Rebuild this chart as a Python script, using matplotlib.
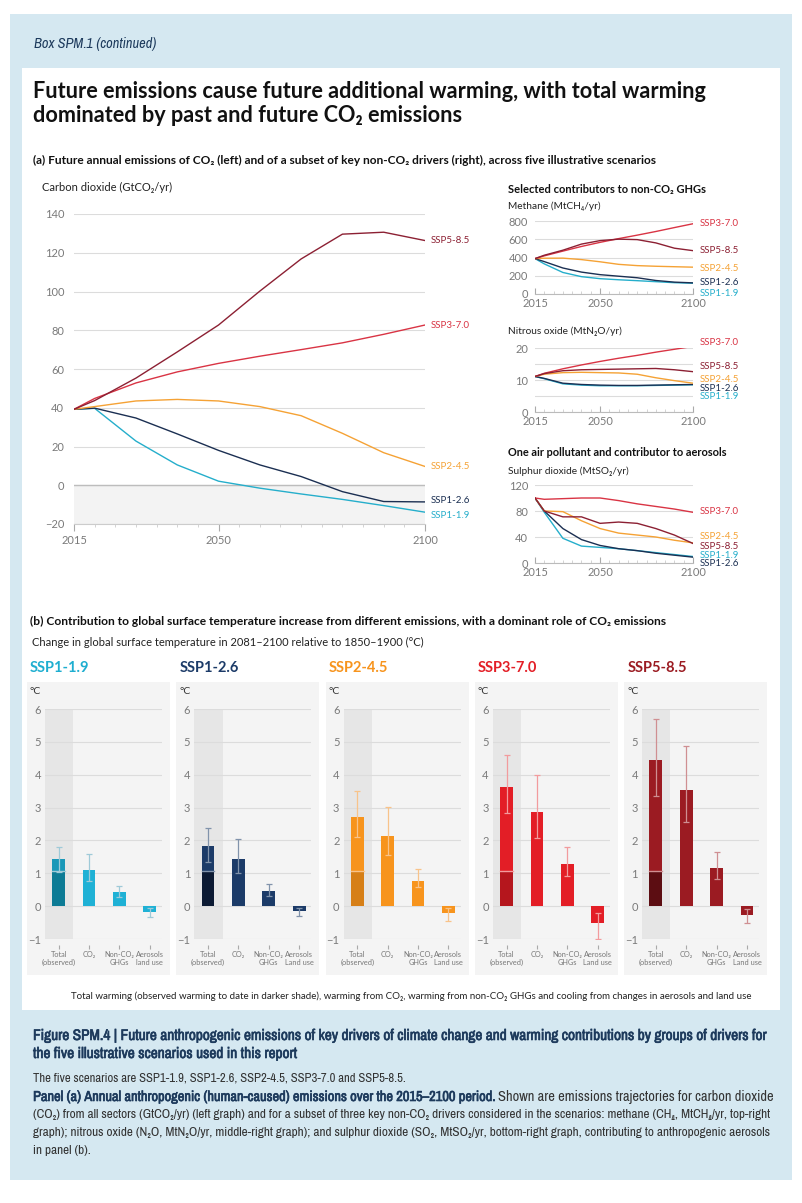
import matplotlib
matplotlib.use('Agg')
import matplotlib.pyplot as plt
import matplotlib.patheffects as pe
from matplotlib.patches import Rectangle
from matplotlib import font_manager

W, H = 802, 1203

# ---- data ----
years = [2015, 2020, 2030, 2040, 2050, 2060, 2070, 2080, 2090, 2100]
scenarios = ['SSP1-1.9', 'SSP1-2.6', 'SSP2-4.5', 'SSP3-7.0', 'SSP5-8.5']

co2 = {
    'SSP1-1.9': [39.2, 39.7, 22.8, 10.5, 2.1, -1.5, -4.5, -7.3, -10.5, -13.9],
    'SSP1-2.6': [39.2, 39.8, 34.7, 26.5, 18.0, 10.5, 4.5, -3.3, -8.4, -8.6],
    'SSP2-4.5': [39.2, 40.6, 43.5, 44.3, 43.5, 40.6, 35.9, 26.8, 16.8, 9.7],
    'SSP3-7.0': [39.2, 44.8, 52.8, 58.5, 62.9, 66.6, 70.0, 73.5, 77.9, 82.7],
    'SSP5-8.5': [39.2, 43.7, 55.3, 68.8, 82.7, 100.2, 116.8, 129.6, 130.6, 126.3],
}
methane = {
    'SSP1-1.9': [388, 330, 236, 190, 168, 156, 146, 135, 124, 118],
    'SSP1-2.6': [388, 355, 285, 240, 212, 195, 178, 148, 130, 122],
    'SSP2-4.5': [388, 392, 393, 377, 353, 325, 311, 304, 299, 294],
    'SSP3-7.0': [388, 418, 470, 521, 566, 607, 645, 685, 728, 770],
    'SSP5-8.5': [388, 425, 480, 547, 585, 601, 596, 560, 502, 475],
}
n2o = {
    'SSP1-1.9': [11.1, 10.4, 8.8, 8.4, 8.2, 8.2, 8.2, 8.3, 8.4, 8.5],
    'SSP1-2.6': [11.1, 10.5, 9.0, 8.6, 8.4, 8.3, 8.3, 8.4, 8.5, 8.6],
    'SSP2-4.5': [11.1, 11.8, 12.3, 12.4, 12.3, 12.2, 11.8, 10.7, 9.8, 9.0],
    'SSP3-7.0': [11.1, 12.1, 13.5, 14.7, 15.8, 16.8, 17.7, 18.7, 19.6, 20.5],
    'SSP5-8.5': [11.1, 12.0, 12.9, 13.2, 13.3, 13.4, 13.5, 13.6, 13.2, 12.6],
}
so2 = {
    'SSP1-1.9': [100, 78, 38, 26, 24, 22, 19, 16, 13, 10],
    'SSP1-2.6': [100, 80, 53, 36, 27, 22, 19, 15, 12, 9],
    'SSP2-4.5': [100, 80, 79, 65, 53, 46, 43, 40, 35, 31],
    'SSP3-7.0': [100, 98, 99, 100, 100, 96, 91, 87, 83, 78],
    'SSP5-8.5': [100, 80, 71, 71, 61, 63, 61, 53, 43, 30],
}

bar_labels = ['Total\n(observed)', 'CO\u2082', 'Non-CO\u2082\nGHGs', 'Aerosols\nLand use']
observed = 1.07
warming = {
    'SSP1-1.9': [1.43, 1.09, 0.43, -0.17],
    'SSP1-2.6': [1.82, 1.42, 0.46, -0.14],
    'SSP2-4.5': [2.71, 2.13, 0.77, -0.20],
    'SSP3-7.0': [3.62, 2.86, 1.28, -0.51],
    'SSP5-8.5': [4.44, 3.52, 1.15, -0.27],
}
warming_lo = {
    'SSP1-1.9': [1.04, 0.77, 0.27, -0.34],
    'SSP1-2.6': [1.33, 1.01, 0.30, -0.30],
    'SSP2-4.5': [2.10, 1.55, 0.57, -0.45],
    'SSP3-7.0': [2.82, 2.08, 0.92, -1.01],
    'SSP5-8.5': [3.34, 2.56, 0.84, -0.52],
}
warming_hi = {
    'SSP1-1.9': [1.80, 1.60, 0.62, -0.05],
    'SSP1-2.6': [2.38, 2.05, 0.66, -0.07],
    'SSP2-4.5': [3.50, 3.02, 1.12, -0.07],
    'SSP3-7.0': [4.60, 4.00, 1.80, -0.22],
    'SSP5-8.5': [5.70, 4.87, 1.66, -0.09],
}

# ---- styles ----
line_col = {'SSP1-1.9': '#25aecb', 'SSP1-2.6': '#1b2f52', 'SSP2-4.5': '#f5a235',
            'SSP3-7.0': '#d93444', 'SSP5-8.5': '#8c2033'}
bar_col = {'SSP1-1.9': '#1fb1d5', 'SSP1-2.6': '#1c3b68', 'SSP2-4.5': '#f7941d',
           'SSP3-7.0': '#e31e26', 'SSP5-8.5': '#9b1b22'}
total_col = {'SSP1-1.9': '#1a98b8', 'SSP1-2.6': '#1c3b68', 'SSP2-4.5': '#f7941d',
             'SSP3-7.0': '#e31e26', 'SSP5-8.5': '#9b1b22'}
obs_col = {'SSP1-1.9': '#0d7b95', 'SSP1-2.6': '#0c1a33', 'SSP2-4.5': '#d67f17',
           'SSP3-7.0': '#b5161d', 'SSP5-8.5': '#5c0d12'}
err_col = {'SSP1-1.9': '#9fcad8', 'SSP1-2.6': '#8193ab', 'SSP2-4.5': '#f8c38a',
           'SSP3-7.0': '#f29b9d', 'SSP5-8.5': '#cf8f92'}
title_col = {'SSP1-1.9': '#1eaed0', 'SSP1-2.6': '#1c3b68', 'SSP2-4.5': '#f7941d',
             'SSP3-7.0': '#e31e26', 'SSP5-8.5': '#9b1b22'}

# a condensed face for the caption, if one is installed
NARROW, STRETCH = 'Liberation Sans', 'normal'
for f in font_manager.fontManager.ttflist:
    if 'Narrow' in f.name or 'Condensed' in f.name:
        NARROW, STRETCH = f.name, 'normal'
        break
    if f.stretch == 'condensed' and f.name in ('DejaVu Sans', 'Liberation Sans', 'Noto Sans'):
        NARROW, STRETCH = f.name, 'condensed'


def heavy(w):
    if isinstance(w, str):
        return w in ('bold', 'semibold', 'demibold', 'heavy', 'black', 'extra bold')
    return w >= 600


HAS_BOLD = any(heavy(f.weight) for f in font_manager.fontManager.ttflist if f.name == NARROW)
SANS = ['Lato', 'DejaVu Sans']
CAP = [NARROW, 'DejaVu Sans']
plt.rcParams['font.family'] = SANS

TICK = '#7a7a7a'
GRID = '#dcdcdc'
NAVY = '#1d3a5c'

fig = plt.figure(figsize=(W / 100, H / 100), dpi=100)
renderer = fig.canvas.get_renderer()


def box(l, t, r, b, color):
    fig.add_artist(Rectangle((l / W, 1 - b / H), (r - l) / W, (b - t) / H,
                             transform=fig.transFigure, fc=color, ec='none', zorder=-5))


def axes_px(l, t, r, b):
    ax = fig.add_axes([l / W, 1 - b / H, (r - l) / W, (b - t) / H])
    ax.set_facecolor('none')
    return ax


def text(x, y, s, size, width=None, **kw):
    kw.setdefault('va', 'center')
    t = fig.text(x / W, 1 - y / H, s, fontsize=size, **kw)
    if width:
        bb = t.get_window_extent(renderer)
        t.set_fontsize(size * width / bb.width)
    return t


def mixed(x, y, parts, width, size, gap=3):
    ts = [fig.text(x / W, 1 - y / H, s, fontsize=size, va='center', **kw) for s, kw in parts]
    total = sum(t.get_window_extent(renderer).width for t in ts)
    scale = (width - gap * (len(ts) - 1)) / total
    cx = x
    for t in ts:
        t.set_fontsize(size * scale)
        t.set_x(cx / W)
        cx += t.get_window_extent(renderer).width + gap


# caption text styles
capkw = dict(family=CAP, stretch=STRETCH)
if HAS_BOLD:
    capbold = dict(capkw, weight='bold', color=NAVY)
else:
    capbold = dict(capkw, color=NAVY, path_effects=[pe.withStroke(linewidth=0.45, foreground=NAVY)])

# backgrounds
box(10, 14, 792, 1180, '#d5e8f1')
box(22, 68, 780, 1010, 'white')

text(34, 44, 'Box SPM.1 (continued)', 8.5, width=123, style='italic', color=NAVY, **capkw)
t1 = text(33, 91, 'Future emissions cause future additional warming, with total warming',
          15, width=674, weight='bold', color='#111111')
text(33, 116, 'dominated by past and future CO\u2082 emissions', t1.get_fontsize(),
     weight='bold', color='#111111')
text(33, 160, '(a) Future annual emissions of CO\u2082 (left) and of a subset of key non-CO\u2082 '
     'drivers (right), across five illustrative scenarios', 7.5, width=624, weight='bold',
     color='#111111')

# ---- CO2 chart ----
ax = axes_px(74, 214, 425, 524)
for s in scenarios:
    ax.plot(years, co2[s], color=line_col[s], lw=1.0, zorder=3)
ax.axhspan(-20, 0, color='#f3f3f3', zorder=0, lw=0)
ax.axhline(0, color='#bdbdbd', lw=1.0, zorder=1)
ax.set_xlim(2015, 2100)
ax.set_ylim(-20, 140)
ax.set_yticks(range(-20, 141, 20))
ax.set_yticklabels(['\u221220'] + [str(v) for v in range(0, 141, 20)])
ax.yaxis.grid(True, color=GRID, lw=0.8)
ax.set_axisbelow(True)
ax.set_xticks([2015, 2050, 2100])
ax.set_xticks(range(2015, 2101, 5), minor=True)
ax.tick_params(axis='y', length=0, pad=7, labelsize=8, labelcolor=TICK)
ax.tick_params(axis='x', which='major', length=5, color='#aaaaaa', pad=3, labelsize=8, labelcolor=TICK)
ax.tick_params(axis='x', which='minor', length=2.5, color='#cccccc')
for sp in ['top', 'right', 'left']:
    ax.spines[sp].set_visible(False)
ax.spines['bottom'].set_color('#cccccc')
co2_lab = {'SSP5-8.5': 126.3, 'SSP3-7.0': 82.7, 'SSP2-4.5': 9.7, 'SSP1-2.6': -7.7, 'SSP1-1.9': -15.5}
for s, yv in co2_lab.items():
    ax.text(2101.3, yv, s, color=line_col[s], fontsize=7, va='center', clip_on=False)
text(42, 187, 'Carbon dioxide (GtCO\u2082/yr)', 7.5, width=129, color='#222222')


# ---- small charts on the right ----
def small_chart(t, b, data, ymax, ticks, grid, labels):
    ax = axes_px(535, t, 693, b)
    for s in scenarios:
        ax.plot(years, data[s], color=line_col[s], lw=1.0, zorder=3)
    ax.set_xlim(2015, 2100)
    ax.set_ylim(0, ymax)
    ax.set_yticks(ticks)
    ax.set_yticks(grid, minor=True)
    ax.yaxis.grid(True, which='both', color=GRID, lw=0.8)
    ax.set_axisbelow(True)
    ax.set_xticks([2015, 2050, 2100])
    ax.set_xticks(range(2015, 2101, 5), minor=True)
    ax.tick_params(axis='y', which='both', length=0, pad=5, labelsize=8, labelcolor=TICK)
    ax.tick_params(axis='x', which='major', direction='in', length=4, color='#aaaaaa', pad=3,
                   labelsize=8, labelcolor=TICK)
    ax.tick_params(axis='x', which='minor', direction='in', length=2, color='#cccccc')
    for sp in ['top', 'right', 'left']:
        ax.spines[sp].set_visible(False)
    ax.spines['bottom'].set_color('#bbbbbb')
    for s, yv in labels.items():
        ax.text(2103.8, yv, s, color=line_col[s], fontsize=7, va='center', clip_on=False)
    return ax


text(508, 189, 'Selected contributors to non-CO\u2082 GHGs', 7.5, width=199, weight='bold', color='#111111')
text(508, 206, 'Methane (MtCH\u2084/yr)', 7.5, width=92, color='#222222')
small_chart(221, 294, methane, 800, [0, 200, 400, 600, 800], [],
            {'SSP3-7.0': 778, 'SSP5-8.5': 472, 'SSP2-4.5': 275, 'SSP1-2.6': 122, 'SSP1-1.9': 0})
text(508, 331, 'Nitrous oxide (MtN\u2082O/yr)', 7.5, width=113, color='#222222')
small_chart(348, 412, n2o, 20, [0, 10, 20], [5, 15],
            {'SSP3-7.0': 21.6, 'SSP5-8.5': 14.1, 'SSP2-4.5': 10.3, 'SSP1-2.6': 7.5, 'SSP1-1.9': 4.7})
text(508, 452, 'One air pollutant and contributor to aerosols', 7.5, width=218, weight='bold',
     color='#111111')
text(508, 471, 'Sulphur dioxide (MtSO\u2082/yr)', 7.5, width=120, color='#222222')
small_chart(485, 563, so2, 120, [0, 40, 80, 120], [],
            {'SSP3-7.0': 80, 'SSP2-4.5': 41.5, 'SSP5-8.5': 26, 'SSP1-1.9': 12.3, 'SSP1-2.6': -1.5})

# ---- panel (b) ----
text(30, 621, '(b) Contribution to global surface temperature increase from different emissions, '
     'with a dominant role of CO\u2082 emissions', 7.5, width=637, weight='bold', color='#111111')
text(32, 642, 'Change in global surface temperature in 2081\u20132100 relative to 1850\u20131900 (\u00b0C)',
     7.5, width=385, color='#222222')

for i, s in enumerate(scenarios):
    left = 27 + 149.3 * i
    box(left, 682, left + 143, 975, '#f4f4f4')
    text(left + 3, 668, s, 10.5, weight='bold', color=title_col[s])
    text(left + 3, 692, '\u00b0C', 7.5, color='#333333')
    ax = axes_px(left + 18, 709, left + 135, 939)
    ax.axvspan(-0.45, 0.48, color='#e6e6e6', lw=0, zorder=0)
    x = list(range(len(bar_labels)))
    vals = warming[s]
    cols = [total_col[s]] + [bar_col[s]] * 3
    ax.bar(x, vals, width=0.42, color=cols, zorder=2)
    ax.bar(0, observed, width=0.42, color=obs_col[s], zorder=2)
    ax.plot([-0.21, 0.21], [observed, observed], color=err_col[s], lw=1.0, zorder=3)
    lo = [v - l for v, l in zip(vals, warming_lo[s])]
    hi = [h - v for v, h in zip(vals, warming_hi[s])]
    ax.errorbar(x, vals, yerr=[lo, hi], fmt='none', ecolor=err_col[s], elinewidth=0.9,
                capsize=2, capthick=0.9, zorder=4)
    ax.set_xlim(-0.45, 3.4)
    ax.set_ylim(-1, 6)
    ax.set_yticks(range(-1, 7))
    ax.set_yticklabels(['\u22121'] + [str(v) for v in range(0, 7)])
    ax.yaxis.grid(True, color=GRID, lw=0.8)
    ax.set_axisbelow(True)
    labs = list(bar_labels)
    if i == 0:
        labs[3] = 'Aerosols\nland use'
    ax.set_xticks(x)
    ax.set_xticklabels(labs)
    ax.tick_params(axis='x', length=3, color='#aaaaaa', pad=1.5, labelsize=5.3, labelcolor='#777777')
    for lab in ax.get_xticklabels():
        lab.set_linespacing(0.85)
    ax.tick_params(axis='y', length=0, pad=3, labelsize=8, labelcolor=TICK)
    for sp in ['top', 'right', 'left']:
        ax.spines[sp].set_visible(False)
    ax.spines['bottom'].set_position(('outward', 4))
    ax.spines['bottom'].set_color('none')

text(411, 996, 'Total warming (observed warming to date in darker shade), warming from CO\u2082, '
     'warming from non-CO\u2082 GHGs and cooling from changes in aerosols and land use',
     7, width=682, ha='center', color='#222222')

# ---- caption ----
t2 = text(33, 1036, 'Figure SPM.4 | Future anthropogenic emissions of key drivers of climate change and '
          'warming contributions by groups of drivers for', 9, width=737, **capbold)
text(33, 1054, 'the five illustrative scenarios used in this report', t2.get_fontsize(), **capbold)
text(33, 1078, 'The five scenarios are SSP1-1.9, SSP1-2.6, SSP2-4.5, SSP3-7.0 and SSP5-8.5.',
     8, width=375, color='#333333', **capkw)
mixed(33, 1097, [('Panel (a) Annual anthropogenic (human-caused) emissions over the 2015\u20132100 period.',
                  capbold),
                 ('Shown are emissions trajectories for carbon dioxide',
                  dict(color='#333333', **capkw))], 737, 8, gap=0)
text(33, 1115, '(CO\u2082) from all sectors (GtCO\u2082/yr) (left graph) and for a subset of three key '
     'non-CO\u2082 drivers considered in the scenarios: methane (CH\u2084, MtCH\u2084/yr, top-right',
     8, width=737, color='#333333', **capkw)
t3 = text(33, 1133, 'graph); nitrous oxide (N\u2082O, MtN\u2082O/yr, middle-right graph); and sulphur dioxide '
          '(SO\u2082, MtSO\u2082/yr, bottom-right graph, contributing to anthropogenic aerosols',
          8, width=737, color='#333333', **capkw)
text(33, 1151, 'in panel (b).', t3.get_fontsize(), color='#333333', **capkw)

fig.savefig('out.png', dpi=100)
